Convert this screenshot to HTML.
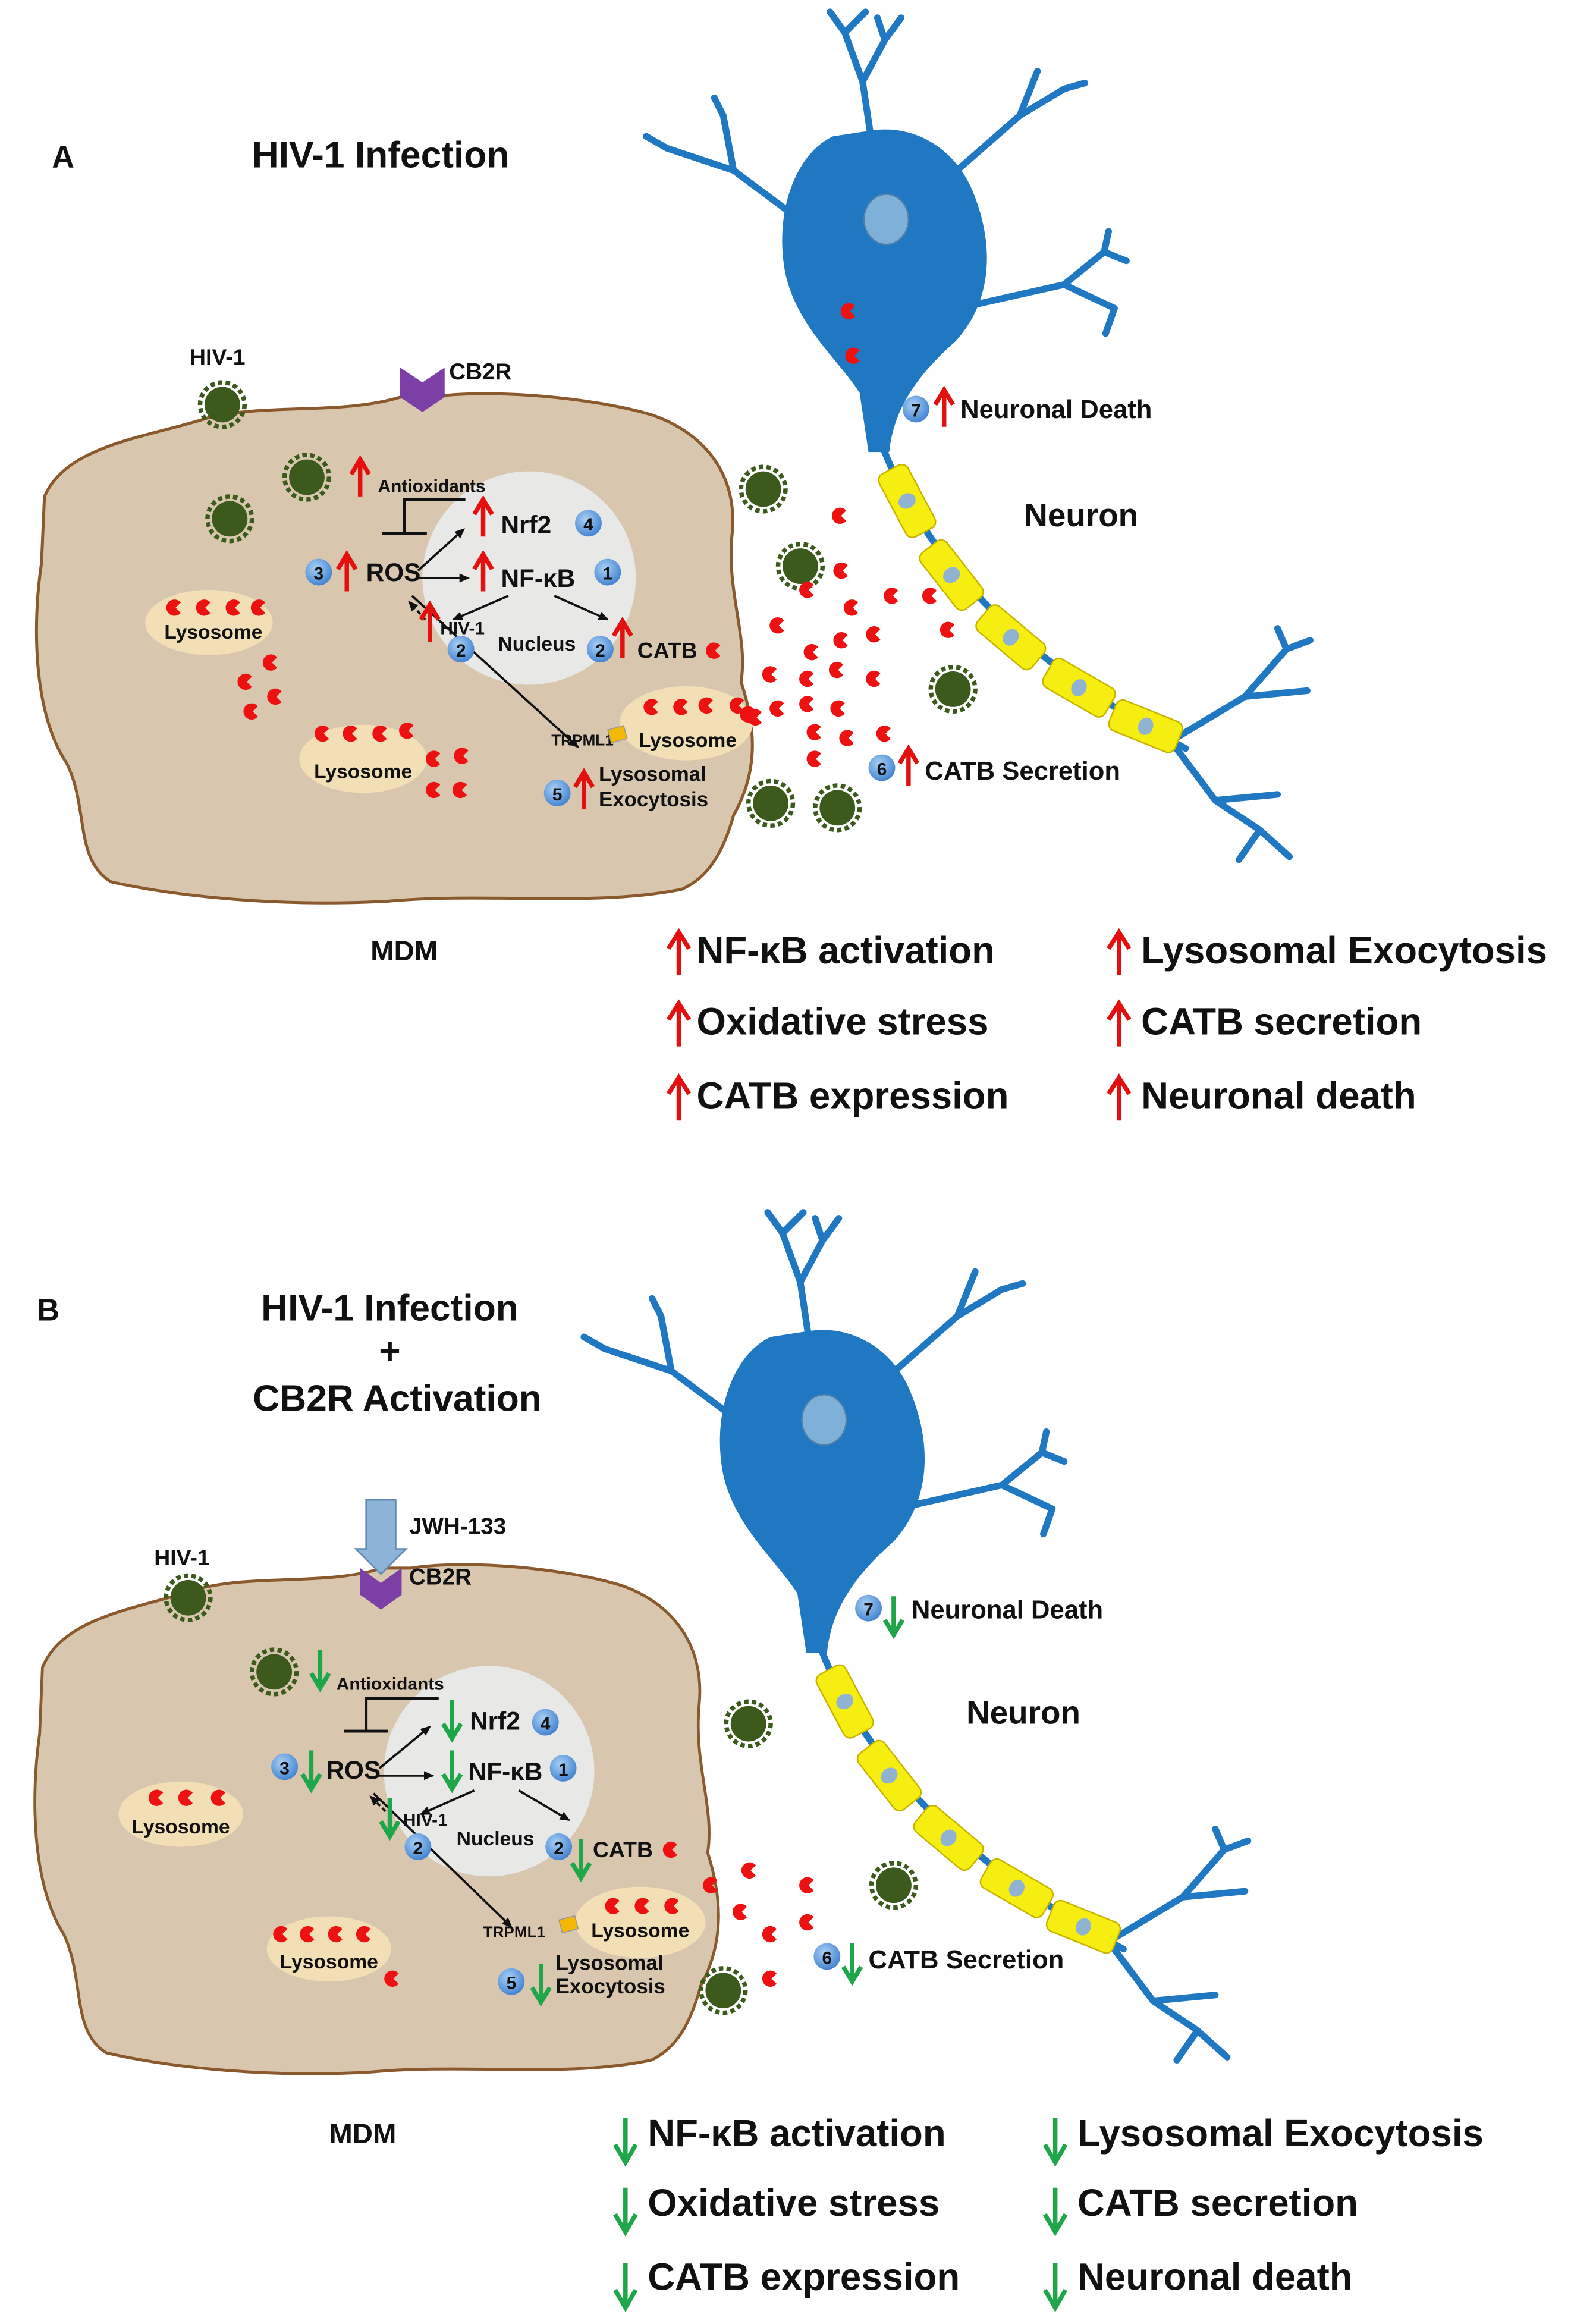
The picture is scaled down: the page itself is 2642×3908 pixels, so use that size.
<!DOCTYPE html>
<html><head><meta charset="utf-8"><style>
html,body{margin:0;padding:0;background:#fff}
svg{display:block}
text{font-family:"Liberation Sans",sans-serif;font-weight:bold;fill:#111}
</style></head><body>
<svg width="2642" height="3908" viewBox="0 0 1060 1568" preserveAspectRatio="none" xmlns="http://www.w3.org/2000/svg">
<defs>
<radialGradient id="ng" cx="40%" cy="35%" r="70%"><stop offset="0" stop-color="#a9d0f5"/><stop offset="1" stop-color="#3f7fcf"/></radialGradient>
<g id="m"><path d="M4,-3.5 A5.5,5.5 0 1 0 4,3.5 L0.5,0 Z" fill="#ee1111"/></g>
<g id="v"><circle r="12" fill="#3b5a1c"/><circle r="15" fill="none" stroke="#3b5a1c" stroke-width="3" stroke-dasharray="3 2.2"/></g>
<g id="up"><path d="M0,0 V-24 M-6,-15 L0,-25 L6,-15" stroke="#e41010" stroke-width="3" fill="none"/></g>
<g id="dn"><path d="M0,-25 V0 M-6,-9 L0,1 L6,-9" stroke="#1fa64a" stroke-width="3" fill="none"/></g>
<g id="bup"><path d="M0,0 V-28 M-7,-18 L0,-29 L7,-18" stroke="#e41010" stroke-width="3" fill="none"/></g>
<g id="bdn"><path d="M0,-29 V0 M-7,-11 L0,1 L7,-11" stroke="#1fa64a" stroke-width="3" fill="none"/></g>
<marker id="ah" markerWidth="8" markerHeight="8" refX="6" refY="4" orient="auto" markerUnits="userSpaceOnUse"><path d="M0,1 L7,4 L0,7 Z" fill="#111"/></marker>
<g id="neuron">
 <g stroke="#1f78c1" stroke-width="4.5" fill="none" stroke-linecap="round" stroke-linejoin="round">
  <path d="M588,95 L582,55 L570,22 M582,55 L597,27 M570,22 L560,8 M570,22 L584,8 M597,27 L608,12 M597,27 L592,12"/>
  <path d="M542,150 L495,115 L450,100 M495,115 L488,78 M450,100 L436,92 M488,78 L482,66"/>
  <path d="M640,120 L688,78 L718,60 M688,78 L700,48 M718,60 L732,56"/>
  <path d="M660,205 L718,192 L745,170 M718,192 L752,208 M745,170 L748,156 M745,170 L760,176 M752,208 L746,225"/>
  <path d="M595,300 Q640,420 800,505"/>
  <path d="M790,500 L840,470 L868,438 M840,470 L882,466 M868,438 L862,424 M868,438 L884,432"/>
  <path d="M790,500 L820,540 L850,560 M820,540 L862,536 M850,560 L836,580 M850,560 L870,578"/>
 </g>
 <path d="M562,92 C536,104 522,145 530,185 C538,220 565,242 580,265 L586,305 L600,305 C603,275 620,252 645,230 C672,200 670,160 655,126 C642,98 615,84 588,88 Z" fill="#1f78c1"/>
 <ellipse cx="598" cy="148" rx="15" ry="17" fill="#7fb0d8" stroke="#4f7fa8" stroke-width="1"/>
 <g fill="#f5ee10" stroke="#c8b400" stroke-width="1">
  <g transform="translate(612,338) rotate(62)"><rect x="-24" y="-11" width="48" height="22" rx="5"/><ellipse rx="5" ry="6" fill="#8fb3d1" stroke="none"/></g>
  <g transform="translate(642,388) rotate(52)"><rect x="-24" y="-11" width="48" height="22" rx="5"/><ellipse rx="5" ry="6" fill="#8fb3d1" stroke="none"/></g>
  <g transform="translate(682,430) rotate(40)"><rect x="-24" y="-11" width="48" height="22" rx="5"/><ellipse rx="5" ry="6" fill="#8fb3d1" stroke="none"/></g>
  <g transform="translate(728,464) rotate(30)"><rect x="-24" y="-11" width="48" height="22" rx="5"/><ellipse rx="5" ry="6" fill="#8fb3d1" stroke="none"/></g>
  <g transform="translate(773,490) rotate(22)"><rect x="-24" y="-11" width="48" height="22" rx="5"/><ellipse rx="5" ry="6" fill="#8fb3d1" stroke="none"/></g>
 </g>
</g>
<path id="cell" d="M30,335 C45,300 100,295 140,282 C180,272 230,280 270,268 L290,268 C330,262 400,268 440,280 C475,292 498,320 494,360 C490,400 505,430 500,460 C510,490 512,520 495,550 C488,575 478,592 460,600 C400,612 330,602 262,608 C190,612 120,605 75,595 C50,580 60,545 45,515 C22,480 22,420 28,380 Z" fill="#d8c7ae" stroke="#8a5a2e" stroke-width="2"/>
</defs>

<!-- ============ PANEL A ============ -->
<text x="35" y="113" font-size="21">A</text>
<text x="170" y="113" font-size="25">HIV-1 Infection</text>
<use href="#neuron"/>
<use href="#m" x="573" y="210"/><use href="#m" x="576" y="240"/>

<use href="#cell"/>
<path d="M270,248 L285,258 L300,248 L300,268 L285,278 L270,268 Z" fill="#7b3fa5"/>
<text x="303" y="256" font-size="15.5">CB2R</text>
<text x="128" y="246" font-size="15">HIV-1</text>
<use href="#v" x="150" y="273"/>
<use href="#v" x="207" y="322"/><use href="#v" x="155" y="350"/>
<use href="#v" x="515" y="330"/><use href="#v" x="540" y="382"/><use href="#v" x="643" y="465"/><use href="#v" x="520" y="542"/><use href="#v" x="565" y="545"/>

<circle cx="357" cy="390" r="72" fill="#e8e8e6"/>
<use href="#up" x="243" y="335"/><text x="255" y="332" font-size="12">Antioxidants</text>
<use href="#up" x="326" y="362"/><text x="338" y="360" font-size="17">Nrf2</text>
<circle cx="397" cy="353" r="9" fill="url(#ng)"/><text x="397" y="358" font-size="12" text-anchor="middle">4</text>
<path d="M314,337 L273,337 L273,360 M258,360 L288,360" stroke="#111" stroke-width="2" fill="none"/>
<circle cx="215" cy="386" r="9" fill="url(#ng)"/><text x="215" y="391" font-size="12" text-anchor="middle">3</text>
<use href="#up" x="234" y="399"/><text x="247" y="392" font-size="17">ROS</text>
<use href="#up" x="326" y="399"/><text x="338" y="396" font-size="17">NF-κB</text>
<circle cx="410" cy="386" r="9" fill="url(#ng)"/><text x="410" y="391" font-size="12" text-anchor="middle">1</text>
<g stroke="#111" stroke-width="1.5" fill="none" marker-end="url(#ah)">
 <path d="M282,385 L313,357"/><path d="M282,390 L316,390"/>
 <path d="M343,402 L306,418"/><path d="M374,402 L410,418"/>
 <path d="M278,402 L390,504"/>
</g>
<path d="M287,418 L276,406" stroke="#111" stroke-width="1.5" stroke-dasharray="3 2" marker-end="url(#ah)"/>
<use href="#up" x="290" y="433"/><text x="297" y="428" font-size="12">HIV-1</text>
<circle cx="311" cy="438" r="9" fill="url(#ng)"/><text x="311" y="443" font-size="12" text-anchor="middle">2</text>
<text x="336" y="439" font-size="13.5">Nucleus</text>
<circle cx="405" cy="438" r="9" fill="url(#ng)"/><text x="405" y="443" font-size="12" text-anchor="middle">2</text>
<use href="#up" x="420" y="444"/><text x="430" y="444" font-size="15">CATB</text><use href="#m" x="482" y="439"/>

<ellipse cx="141" cy="420" rx="43" ry="22" fill="#f2dfb6"/>
<use href="#m" x="118" y="410"/><use href="#m" x="138" y="410"/><use href="#m" x="158" y="410"/><use href="#m" x="175" y="410"/>
<text x="144" y="431" font-size="13.5" text-anchor="middle">Lysosome</text>
<use href="#m" x="166" y="460"/><use href="#m" x="183" y="447"/><use href="#m" x="186" y="470"/><use href="#m" x="170" y="480"/>
<ellipse cx="245" cy="512" rx="43" ry="23" fill="#f2dfb6"/>
<use href="#m" x="218" y="495"/><use href="#m" x="237" y="495"/><use href="#m" x="257" y="495"/><use href="#m" x="275" y="493"/>
<text x="245" y="525" font-size="13.5" text-anchor="middle">Lysosome</text>
<use href="#m" x="293" y="512"/><use href="#m" x="312" y="510"/><use href="#m" x="293" y="533"/><use href="#m" x="311" y="533"/>
<ellipse cx="463" cy="488" rx="45" ry="25" fill="#f2dfb6"/>
<use href="#m" x="440" y="477"/><use href="#m" x="460" y="477"/><use href="#m" x="477" y="476"/><use href="#m" x="498" y="476"/><use href="#m" x="510" y="484"/>
<text x="464" y="504" font-size="13.5" text-anchor="middle">Lysosome</text>
<text x="372" y="503" font-size="10.5">TRPML1</text>
<rect x="411" y="491" width="11" height="9" fill="#f5b800" stroke="#999" stroke-width="0.7" transform="rotate(-15 416 495)"/>
<circle cx="376" cy="535" r="9" fill="url(#ng)"/><text x="376" y="540" font-size="12" text-anchor="middle">5</text>
<use href="#up" x="394" y="546"/><text x="404" y="527" font-size="14">Lysosomal</text><text x="404" y="544" font-size="14">Exocytosis</text>

<g>
<use href="#m" x="567" y="348"/><use href="#m" x="568" y="385"/><use href="#m" x="545" y="398"/><use href="#m" x="525" y="422"/><use href="#m" x="575" y="410"/><use href="#m" x="602" y="402"/><use href="#m" x="628" y="402"/><use href="#m" x="640" y="425"/><use href="#m" x="548" y="440"/><use href="#m" x="568" y="432"/><use href="#m" x="590" y="428"/><use href="#m" x="520" y="455"/><use href="#m" x="545" y="458"/><use href="#m" x="565" y="452"/><use href="#m" x="590" y="458"/><use href="#m" x="505" y="482"/><use href="#m" x="525" y="478"/><use href="#m" x="545" y="475"/><use href="#m" x="566" y="478"/><use href="#m" x="550" y="494"/><use href="#m" x="572" y="498"/><use href="#m" x="597" y="495"/><use href="#m" x="550" y="512"/>
</g>
<circle cx="595" cy="518" r="9" fill="url(#ng)"/><text x="595" y="523" font-size="12" text-anchor="middle">6</text>
<use href="#up" x="613" y="530"/><text x="624" y="526" font-size="17.5">CATB Secretion</text>
<circle cx="618" cy="276" r="9" fill="url(#ng)"/><text x="618" y="281" font-size="12" text-anchor="middle">7</text>
<use href="#up" x="637" y="288"/><text x="648" y="282" font-size="17.5">Neuronal Death</text>
<text x="691" y="355" font-size="22">Neuron</text>
<text x="250" y="648" font-size="19">MDM</text>

<use href="#bup" x="458" y="658"/><text x="470" y="650" font-size="25.5">NF-κB activation</text>
<use href="#bup" x="458" y="706"/><text x="470" y="698" font-size="25.5">Oxidative stress</text>
<use href="#bup" x="458" y="756"/><text x="470" y="748" font-size="25.5">CATB expression</text>
<use href="#bup" x="755" y="658"/><text x="770" y="650" font-size="25.5">Lysosomal Exocytosis</text>
<use href="#bup" x="755" y="706"/><text x="770" y="698" font-size="25.5">CATB secretion</text>
<use href="#bup" x="755" y="756"/><text x="770" y="748" font-size="25.5">Neuronal death</text>

<!-- ============ PANEL B ============ -->
<text x="25" y="891" font-size="21">B</text>
<text x="263" y="891" font-size="25" text-anchor="middle">HIV-1 Infection</text>
<text x="263" y="920" font-size="25" text-anchor="middle">+</text>
<text x="268" y="952" font-size="25" text-anchor="middle">CB2R Activation</text>
<use href="#neuron" transform="translate(-42,810)"/>

<use href="#cell" transform="translate(0,790) scale(0.955,1.0)"/>
<path d="M247,1012 L267,1012 L267,1045 L274,1045 L257,1062 L240,1045 L247,1045 Z" fill="#8db4d8" stroke="#5e88b0" stroke-width="1"/>
<text x="276" y="1035" font-size="15.5">JWH-133</text>
<path d="M243,1058 L257,1068 L271,1058 L271,1076 L257,1086 L243,1076 Z" fill="#7b3fa5"/>
<text x="276" y="1069" font-size="15.5">CB2R</text>
<text x="104" y="1056" font-size="15">HIV-1</text>
<use href="#v" x="127" y="1078"/>
<use href="#v" x="185" y="1128"/><use href="#v" x="505" y="1163"/><use href="#v" x="603" y="1272"/><use href="#v" x="488" y="1343"/>

<circle cx="330" cy="1195" r="71" fill="#e8e8e6"/>
<use href="#dn" x="216" y="1138"/><text x="227" y="1140" font-size="12">Antioxidants</text>
<use href="#dn" x="305" y="1172"/><text x="317" y="1167" font-size="17">Nrf2</text>
<circle cx="368" cy="1162" r="9" fill="url(#ng)"/><text x="368" y="1167" font-size="12" text-anchor="middle">4</text>
<path d="M296,1146 L247,1146 L247,1168 M232,1168 L262,1168" stroke="#111" stroke-width="2" fill="none"/>
<circle cx="192" cy="1192" r="9" fill="url(#ng)"/><text x="192" y="1197" font-size="12" text-anchor="middle">3</text>
<use href="#dn" x="210" y="1206"/><text x="220" y="1200" font-size="17">ROS</text>
<use href="#dn" x="305" y="1206"/><text x="316" y="1201" font-size="17">NF-κB</text>
<circle cx="380" cy="1193" r="9" fill="url(#ng)"/><text x="380" y="1198" font-size="12" text-anchor="middle">1</text>
<g stroke="#111" stroke-width="1.5" fill="none" marker-end="url(#ah)">
 <path d="M256,1193 L290,1165"/><path d="M256,1198 L292,1198"/>
 <path d="M320,1208 L284,1224"/><path d="M350,1208 L384,1228"/>
 <path d="M252,1210 L345,1300"/>
</g>
<path d="M260,1222 L250,1212" stroke="#111" stroke-width="1.5" stroke-dasharray="3 2" marker-end="url(#ah)"/>
<use href="#dn" x="263" y="1238"/><text x="272" y="1232" font-size="12">HIV-1</text>
<circle cx="282" cy="1246" r="9" fill="url(#ng)"/><text x="282" y="1251" font-size="12" text-anchor="middle">2</text>
<text x="308" y="1245" font-size="13.5">Nucleus</text>
<circle cx="377" cy="1246" r="9" fill="url(#ng)"/><text x="377" y="1251" font-size="12" text-anchor="middle">2</text>
<use href="#dn" x="392" y="1266"/><text x="400" y="1253" font-size="15">CATB</text><use href="#m" x="453" y="1248"/>

<ellipse cx="122" cy="1224" rx="42" ry="22" fill="#f2dfb6"/>
<use href="#m" x="106" y="1213"/><use href="#m" x="126" y="1213"/><use href="#m" x="148" y="1213"/>
<text x="122" y="1237" font-size="13.5" text-anchor="middle">Lysosome</text>
<ellipse cx="222" cy="1315" rx="42" ry="22" fill="#f2dfb6"/>
<use href="#m" x="190" y="1305"/><use href="#m" x="208" y="1305"/><use href="#m" x="227" y="1305"/><use href="#m" x="246" y="1305"/>
<text x="222" y="1328" font-size="13.5" text-anchor="middle">Lysosome</text>
<use href="#m" x="265" y="1335"/>
<ellipse cx="432" cy="1297" rx="44" ry="24" fill="#f2dfb6"/>
<use href="#m" x="414" y="1286"/><use href="#m" x="434" y="1286"/><use href="#m" x="454" y="1286"/>
<text x="432" y="1307" font-size="13.5" text-anchor="middle">Lysosome</text>
<text x="326" y="1307" font-size="10.5">TRPML1</text>
<rect x="378" y="1294" width="11" height="9" fill="#f5b800" stroke="#999" stroke-width="0.7" transform="rotate(-15 383 1298)"/>
<circle cx="345" cy="1337" r="9" fill="url(#ng)"/><text x="345" y="1342" font-size="12" text-anchor="middle">5</text>
<use href="#dn" x="365" y="1350"/><text x="375" y="1329" font-size="14">Lysosomal</text><text x="375" y="1345" font-size="14">Exocytosis</text>
<use href="#m" x="480" y="1272"/><use href="#m" x="506" y="1262"/><use href="#m" x="500" y="1290"/><use href="#m" x="520" y="1305"/><use href="#m" x="545" y="1272"/><use href="#m" x="545" y="1297"/><use href="#m" x="520" y="1335"/>
<circle cx="558" cy="1320" r="9" fill="url(#ng)"/><text x="558" y="1325" font-size="12" text-anchor="middle">6</text>
<use href="#dn" x="575" y="1336"/><text x="586" y="1328" font-size="17.5">CATB Secretion</text>
<circle cx="586" cy="1085" r="9" fill="url(#ng)"/><text x="586" y="1090" font-size="12" text-anchor="middle">7</text>
<use href="#dn" x="603" y="1102"/><text x="615" y="1092" font-size="17.5">Neuronal Death</text>
<text x="652" y="1163" font-size="22">Neuron</text>
<text x="222" y="1446" font-size="19">MDM</text>

<use href="#bdn" x="422" y="1458"/><text x="437" y="1448" font-size="25.5">NF-κB activation</text>
<use href="#bdn" x="422" y="1505"/><text x="437" y="1495" font-size="25.5">Oxidative stress</text>
<use href="#bdn" x="422" y="1556"/><text x="437" y="1545" font-size="25.5">CATB expression</text>
<use href="#bdn" x="712" y="1458"/><text x="727" y="1448" font-size="25.5">Lysosomal Exocytosis</text>
<use href="#bdn" x="712" y="1505"/><text x="727" y="1495" font-size="25.5">CATB secretion</text>
<use href="#bdn" x="712" y="1556"/><text x="727" y="1545" font-size="25.5">Neuronal death</text>
</svg>
</body></html>
